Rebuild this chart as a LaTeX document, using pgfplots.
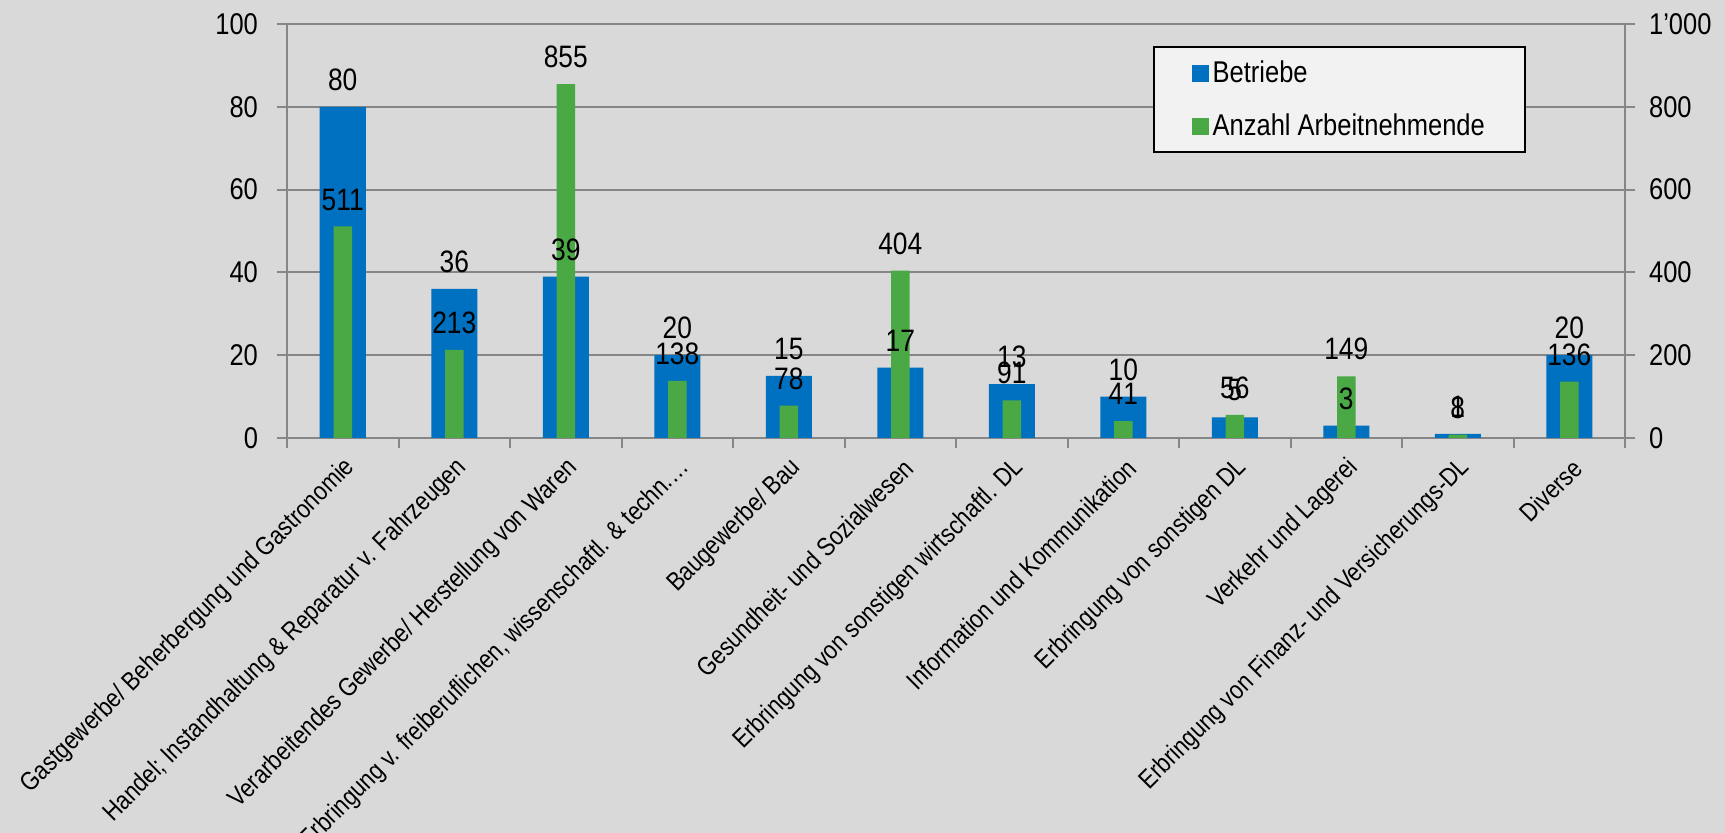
\documentclass[border=0pt]{standalone}
\usepackage{pgfplots}
\usepackage{pgfplotstable}
\pgfplotsset{compat=1.18}
\usepackage{fontspec}
\setmainfont{Liberation Sans}[FakeStretch=0.85]
\definecolor{bgc}{HTML}{D9D9D9}
\definecolor{gridc}{HTML}{868686}
\definecolor{blueb}{HTML}{0070C0}
\definecolor{greenb}{HTML}{4AA845}
\definecolor{legbg}{HTML}{F2F2F2}

\pgfplotstableread{
x b a
0 80 511
1 36 213
2 39 855
3 20 138
4 15 78
5 17 404
6 13 91
7 10 41
8 5 56
9 3 149
10 1 8
11 20 136
}\data

\pgfplotsset{
  common/.style={
    at={(143.5pt,197.5pt)}, anchor=south west,
    scale only axis, width=669pt, height=207pt,
    xmin=-0.5, xmax=11.5, ymin=0,
    /pgf/number format/assume math mode=true,
    tick label style={font=\fontsize{15}{18}\selectfont, text=black},
    every node near coord/.append style={font=\fontsize{15.5}{18}\selectfont, text=black, yshift=4.5pt},
    tick align=outside, major tick length=5pt,
    every tick/.style={gridc, line width=1pt},
    axis line style={gridc, line width=1pt},
    ybar,
  }
}

\begin{document}
\begin{tikzpicture}
\fill[bgc] (0,0) rectangle (862.5pt,416.5pt);
\useasboundingbox (0,0) rectangle (862.5pt,416.5pt);

% Axis 1: Betriebe (left)
\begin{axis}[common, ymax=100, ytick={0,20,...,100},
  axis x line*=bottom, axis y line*=left,
  ymajorgrids, grid style={gridc, line width=1pt},
  yticklabel style={xshift=-6pt},
  xtick={-0.5,0.5,...,11.5}, xticklabel=\empty,
  extra x ticks={0,1,2,3,4,5,6,7,8,9,10,11},
  extra x tick labels={
    Gastgewerbe/ Beherbergung und Gastronomie,
    Handel; Instandhaltung \& Reparatur v. Fahrzeugen,
    Verarbeitendes Gewerbe/ Herstellung von Waren,
    {Erbringung v. freiberuflichen, wissenschaftl. \& techn.…},
    Baugewerbe/ Bau,
    Gesundheit- und Sozialwesen,
    Erbringung von sonstigen wirtschaftl. DL,
    Information und Kommunikation,
    Erbringung von sonstigen DL,
    Verkehr und Lagerei,
    Erbringung von Finanz- und Versicherungs-DL,
    Diverse},
  extra x tick style={major tick length=0pt, grid=none,
    tick label style={xshift=6.5pt, yshift=-10.5pt, rotate=45, anchor=east, font=\fontsize{13}{16}\selectfont}},
  bar width=23pt,
]
\addplot[fill=blueb, draw=none] table[x=x,y=b]{\data};
\end{axis}

% Axis 2: Arbeitnehmende (right)
\begin{axis}[common, ymax=1000, ytick={0,200,...,1000},
  yticklabels={0,200,400,600,800,1’000},
  axis y line*=right, axis x line=none,
  yticklabel style={xshift=3.5pt},
  bar width=9.25pt,
  legend image code/.code={\path (-1pt,0pt); \fill[#1] (0pt,-4.25pt) rectangle (8.5pt,4.25pt);},
  legend cell align=left,
  legend style={at={(rel axis cs:0.647,0.947)}, anchor=north west,
    fill=legbg, draw=black, line width=1pt,
    font=\fontsize{15}{18}\selectfont,
    inner xsep=18pt, inner ysep=5pt, row sep=10pt},
]
\addlegendimage{fill=blueb, draw=none}
\addlegendentry{Betriebe}
\addplot[fill=greenb, draw=none, nodes near coords] table[x=x,y=a]{\data};
\addlegendentry{Anzahl Arbeitnehmende}
\end{axis}

% Axis 3: labels for Betriebe on top
\begin{axis}[common, ymax=100, hide axis, bar width=23pt]
\addplot[draw=none, fill=none, nodes near coords] table[x=x,y=b]{\data};
\end{axis}
\end{tikzpicture}
\end{document}
